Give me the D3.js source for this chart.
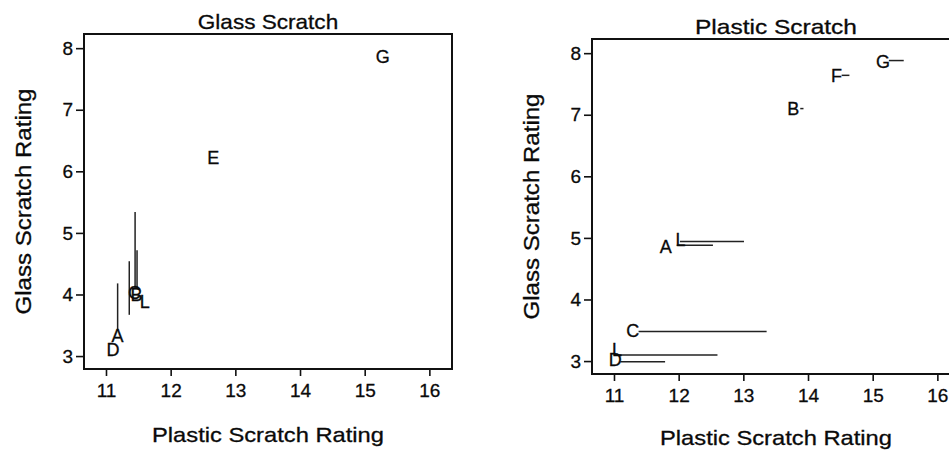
<!DOCTYPE html>
<html>
<head>
<meta charset="utf-8">
<script src="https://cdn.jsdelivr.net/npm/d3@7"></script>
<style>
  body { margin: 0; background: #fff; }
  text { font-family: "Liberation Sans", Arial, Helvetica, sans-serif; fill: #0a0a0a; stroke: #0a0a0a; stroke-width: 0.3px; }
  .tick text { font-size: 19px; }
  .letter { font-size: 18px; }
</style>
</head>
<body>
<svg width="949" height="451"></svg>
<script>
//Tick values shared by both panels
let xTicks = [11, 12, 13, 14, 15, 16];
let yTicks = [3, 4, 5, 6, 7, 8];

//Left panel: letters placed at (plastic, glass) with vertical glass scratch bars
let glassLabels = ["G", "E", "B", "C", "L", "A", "D"];
let glassX = [15.28, 12.66, 11.47, 11.44, 11.6, 11.18, 11.11];
let glassY = [7.86, 6.22, 4.0, 4.03, 3.88, 3.34, 3.1];
let glassBarX = [11.18, 11.36, 11.45, 11.48];
let glassBarFrom = [3.42, 3.67, 4.1, 4.1];
let glassBarTo = [4.18, 4.54, 5.34, 4.72];

//Right panel: letters with horizontal plastic scratch bars
let plasticLabels = ["G", "F", "B", "A", "C", "D"];
let plasticX = [15.16, 14.44, 13.77, 11.8, 11.29, 11.02];
let plasticY = [7.87, 7.63, 7.1, 4.86, 3.49, 3.02];
let plasticBarY = [7.88, 7.64, 7.1, 4.88, 4.94, 3.48, 3.1, 2.99];
let plasticBarFrom = [15.25, 14.52, 13.88, 11.97, 12.02, 11.38, 11.0, 11.1];
let plasticBarTo = [15.48, 14.64, 13.93, 12.53, 13.01, 13.36, 12.6, 11.79];
//The "L" letters whose foot runs into a bar
let plasticLLabels = ["L", "L"];
let plasticLX = [11.95, 10.97];
let plasticLY = [4.87, 3.09];

let svg = d3.select("svg");
let panelW = 368, panelH = 335;

//Draw one framed panel and return its scales and group
function makePanel(left, top, title, labelY){
  let g = svg.append("g").attr("transform", "translate(" + left + "," + top + ")");
  let x = d3.scaleLinear().domain([10.66, 16.35]).range([0, panelW]);
  let y = d3.scaleLinear().domain([2.79, 8.23]).range([panelH, 0]);

  g.append("g")
    .attr("transform", "translate(0," + panelH + ")")
    .call(d3.axisBottom(x).tickValues(xTicks).tickFormat(d3.format("d")).tickSize(7).tickPadding(8))
    .call(a => a.select(".domain").remove())
    .call(a => a.selectAll("line").attr("stroke", "#111").attr("stroke-width", 1.6));

  g.append("g")
    .call(d3.axisLeft(y).tickValues(yTicks).tickFormat(d3.format("d")).tickSize(8).tickPadding(3))
    .call(a => a.select(".domain").remove())
    .call(a => a.selectAll("line").attr("stroke", "#111").attr("stroke-width", 1.6));

  //Box round the plotting area
  g.append("rect")
    .attr("width", panelW).attr("height", panelH)
    .attr("fill", "none").attr("stroke", "#111").attr("stroke-width", 2);

  g.append("text")
    .attr("x", panelW / 2).attr("y", -5)
    .attr("text-anchor", "middle")
    .style("font-size", "21px")
    .attr("textLength", title.length * 10.8)
    .attr("lengthAdjust", "spacingAndGlyphs")
    .text(title);

  g.append("text")
    .attr("x", panelW / 2).attr("y", labelY)
    .attr("text-anchor", "middle")
    .style("font-size", "21px")
    .attr("textLength", 232)
    .attr("lengthAdjust", "spacingAndGlyphs")
    .text("Plastic Scratch Rating");

  g.append("text")
    .attr("transform", "translate(-53," + panelH / 2 + ") rotate(-90)")
    .attr("text-anchor", "middle")
    .style("font-size", "22px")
    .attr("textLength", 226)
    .attr("lengthAdjust", "spacingAndGlyphs")
    .text("Glass  Scratch Rating");

  return {g: g, x: x, y: y};
}

let left = makePanel(84, 34, "Glass Scratch", 408);
let right = makePanel(592, 39, "Plastic Scratch", 406);

//Left panel bars
left.g.selectAll(".bar")
  .data(glassBarX)
  .enter().append("line")
  .attr("class", "bar")
  .attr("x1", d => left.x(d)).attr("x2", d => left.x(d))
  .attr("y1", (d, i) => left.y(glassBarFrom[i]))
  .attr("y2", (d, i) => left.y(glassBarTo[i]))
  .attr("stroke", "#222").attr("stroke-width", 1.5);

left.g.selectAll(".letter")
  .data(glassLabels)
  .enter().append("text")
  .attr("class", "letter")
  .attr("x", (d, i) => left.x(glassX[i]))
  .attr("y", (d, i) => left.y(glassY[i]))
  .attr("dy", "0.36em")
  .attr("text-anchor", "middle")
  .text(d => d);

//Right panel bars
right.g.selectAll(".bar")
  .data(plasticBarY)
  .enter().append("line")
  .attr("class", "bar")
  .attr("y1", d => right.y(d)).attr("y2", d => right.y(d))
  .attr("x1", (d, i) => right.x(plasticBarFrom[i]))
  .attr("x2", (d, i) => right.x(plasticBarTo[i]))
  .attr("stroke", "#222").attr("stroke-width", 1.5);

right.g.selectAll(".letter")
  .data(plasticLabels)
  .enter().append("text")
  .attr("class", "letter")
  .attr("x", (d, i) => right.x(plasticX[i]))
  .attr("y", (d, i) => right.y(plasticY[i]))
  .attr("dy", "0.36em")
  .attr("text-anchor", "middle")
  .text(d => d);

right.g.selectAll(".lletter")
  .data(plasticLLabels)
  .enter().append("text")
  .attr("class", "letter lletter")
  .attr("x", (d, i) => right.x(plasticLX[i]))
  .attr("y", (d, i) => right.y(plasticLY[i]))
  .attr("text-anchor", "start")
  .text(d => d);
</script>
</body>
</html>
